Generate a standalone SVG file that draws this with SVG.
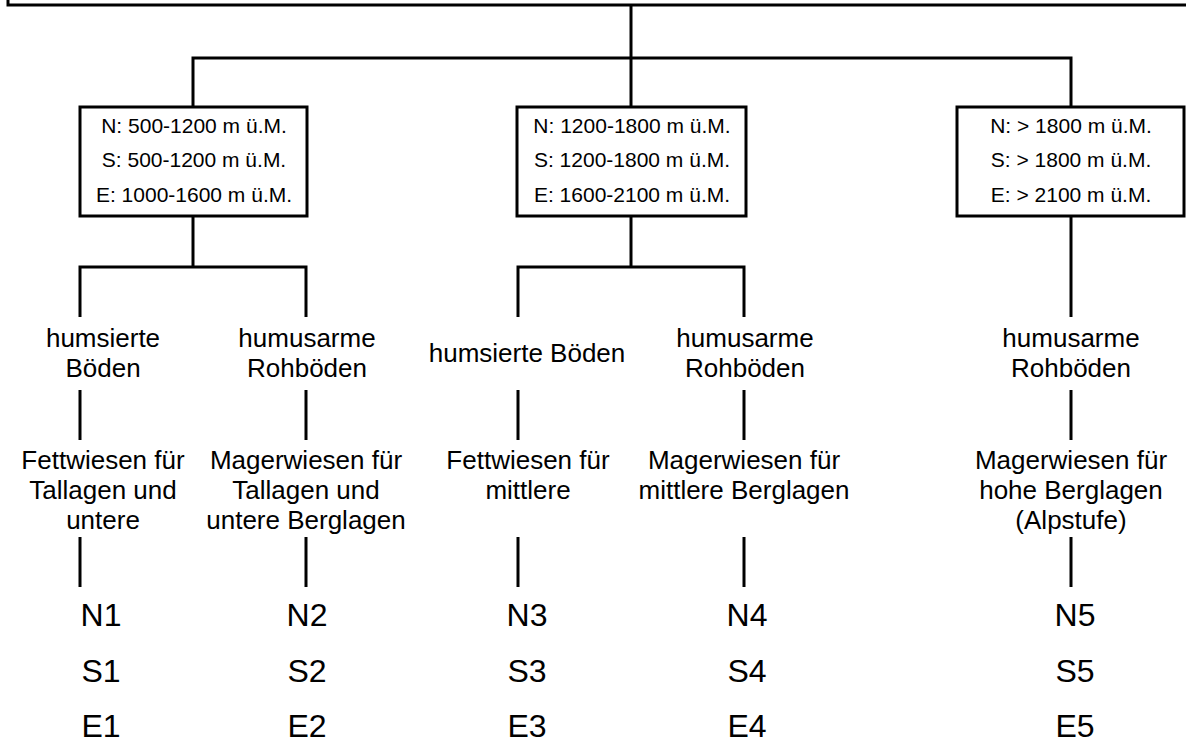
<svg xmlns="http://www.w3.org/2000/svg" width="1186" height="747" viewBox="0 0 1186 747">
<style>
.ln{stroke:#000;stroke-width:3;fill:none}
.box{stroke:#000;stroke-width:3;fill:#fff}
.t{font-family:"Liberation Sans",Arial,sans-serif;fill:#000;text-anchor:middle}
.s{font-size:21px}
.m{font-size:26px}
.l{font-size:32px}
</style>
<rect width="1186" height="747" fill="#fff"/>
<g id="root">
<path class="ln" d="M8,-5 V5 H1195"/>
</g>
<g id="connectors">
<path class="ln" d="M631,5 V58"/>
<path class="ln" d="M193,108 V58 H1071 V108"/>
<path class="ln" d="M631,58 V108"/>
<path class="ln" d="M193,216 V267"/>
<path class="ln" d="M80,317 V267 H306 V317"/>
<path class="ln" d="M631,216 V267"/>
<path class="ln" d="M518,317 V267 H744 V317"/>
<path class="ln" d="M1071,216 V317"/>
<path class="ln" d="M80,390 V440 M306,390 V440 M518,390 V440 M744,390 V440 M1071,390 V440"/>
<path class="ln" d="M80,537 V587 M306,537 V587 M518,537 V587 M744,537 V587 M1071,537 V587"/>
</g>
<g id="box1">
<rect class="box" x="80" y="107" width="227" height="109"/>
<text class="t s" x="194" y="133">N: 500-1200 m ü.M.</text>
<text class="t s" x="194" y="167">S: 500-1200 m ü.M.</text>
<text class="t s" x="194" y="202">E: 1000-1600 m ü.M.</text>
</g>
<g id="box2">
<rect class="box" x="517" y="107" width="229" height="109"/>
<text class="t s" x="632" y="133">N: 1200-1800 m ü.M.</text>
<text class="t s" x="632" y="167">S: 1200-1800 m ü.M.</text>
<text class="t s" x="632" y="202">E: 1600-2100 m ü.M.</text>
</g>
<g id="box3">
<rect class="box" x="957" y="107" width="227" height="109"/>
<text class="t s" x="1071" y="133">N: &gt; 1800 m ü.M.</text>
<text class="t s" x="1071" y="167">S: &gt; 1800 m ü.M.</text>
<text class="t s" x="1071" y="202">E: &gt; 2100 m ü.M.</text>
</g>
<g id="soil1">
<text class="t m" x="103" y="347">humsierte</text>
<text class="t m" x="103" y="377">Böden</text>
</g>
<g id="soil2">
<text class="t m" x="307" y="347">humusarme</text>
<text class="t m" x="307" y="377">Rohböden</text>
</g>
<g id="soil3">
<text class="t m" x="527" y="362">humsierte Böden</text>
</g>
<g id="soil4">
<text class="t m" x="745" y="347">humusarme</text>
<text class="t m" x="745" y="377">Rohböden</text>
</g>
<g id="soil5">
<text class="t m" x="1071" y="347">humusarme</text>
<text class="t m" x="1071" y="377">Rohböden</text>
</g>
<g id="meadow1">
<text class="t m" x="103" y="469">Fettwiesen für</text>
<text class="t m" x="103" y="499">Tallagen und</text>
<text class="t m" x="103" y="529">untere</text>
</g>
<g id="meadow2">
<text class="t m" x="306" y="469">Magerwiesen für</text>
<text class="t m" x="306" y="499">Tallagen und</text>
<text class="t m" x="306" y="529">untere Berglagen</text>
</g>
<g id="meadow3">
<text class="t m" x="528" y="469">Fettwiesen für</text>
<text class="t m" x="528" y="499">mittlere</text>
</g>
<g id="meadow4">
<text class="t m" x="744" y="469">Magerwiesen für</text>
<text class="t m" x="744" y="499">mittlere Berglagen</text>
</g>
<g id="meadow5">
<text class="t m" x="1071" y="469">Magerwiesen für</text>
<text class="t m" x="1071" y="499">hohe Berglagen</text>
<text class="t m" x="1071" y="529">(Alpstufe)</text>
</g>
<g id="codes1">
<text class="t l" x="101" y="626">N1</text>
<text class="t l" x="101" y="682">S1</text>
<text class="t l" x="101" y="737">E1</text>
</g>
<g id="codes2">
<text class="t l" x="307" y="626">N2</text>
<text class="t l" x="307" y="682">S2</text>
<text class="t l" x="307" y="737">E2</text>
</g>
<g id="codes3">
<text class="t l" x="527" y="626">N3</text>
<text class="t l" x="527" y="682">S3</text>
<text class="t l" x="527" y="737">E3</text>
</g>
<g id="codes4">
<text class="t l" x="747" y="626">N4</text>
<text class="t l" x="747" y="682">S4</text>
<text class="t l" x="747" y="737">E4</text>
</g>
<g id="codes5">
<text class="t l" x="1075" y="626">N5</text>
<text class="t l" x="1075" y="682">S5</text>
<text class="t l" x="1075" y="737">E5</text>
</g>
</svg>
